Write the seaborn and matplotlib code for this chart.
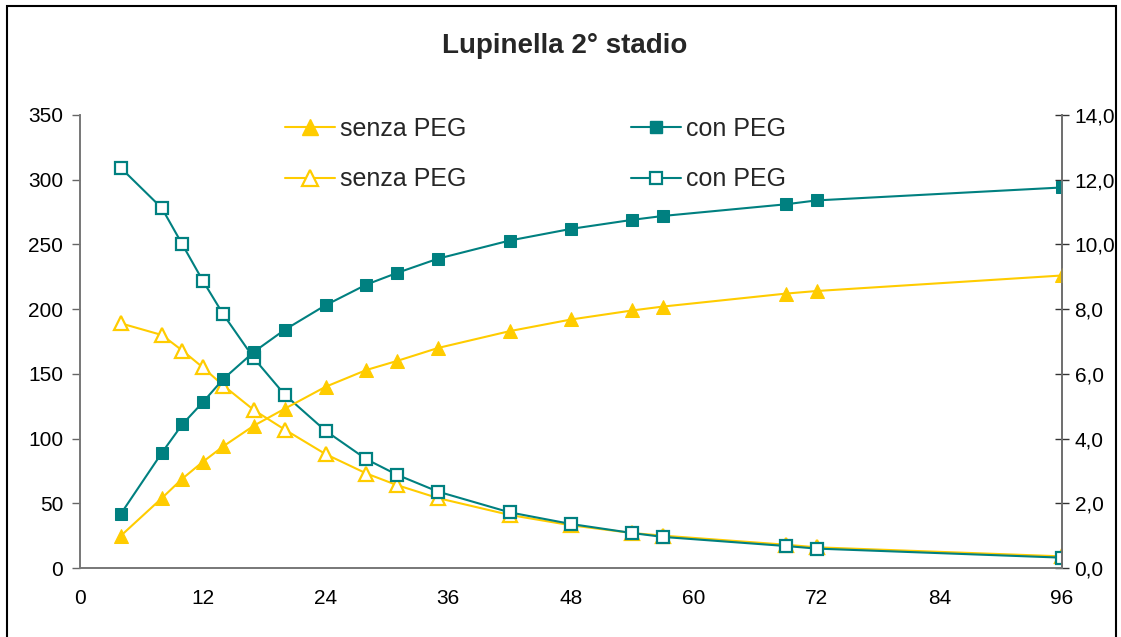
import matplotlib
matplotlib.use("Agg")
import matplotlib.pyplot as plt
import seaborn as sns
import pandas as pd
from matplotlib.patches import Rectangle
from matplotlib.lines import Line2D
from matplotlib.ticker import FuncFormatter

# Data (hours)
ore = [4, 8, 10, 12, 14, 17, 20, 24, 28, 31, 35, 42, 48, 54, 57, 69, 72, 96]
# cumulative values (left axis)
senza_cum = [25, 54, 69, 82, 94, 110, 123, 140, 153, 160, 170, 183, 192, 199, 202, 212, 214, 226]
con_cum = [42, 89, 111, 128, 146, 167, 184, 203, 219, 228, 239, 253, 262, 269, 272, 281, 284, 294]
# rate values (right axis)
senza_rate = [7.56, 7.20, 6.72, 6.20, 5.64, 4.88, 4.28, 3.52, 2.92, 2.56, 2.16, 1.64, 1.32, 1.08, 1.00, 0.72, 0.64, 0.36]
con_rate = [12.36, 11.12, 10.00, 8.88, 7.84, 6.48, 5.36, 4.24, 3.36, 2.88, 2.36, 1.72, 1.36, 1.08, 0.96, 0.68, 0.60, 0.32]

df = pd.DataFrame({"ore": ore, "senza_cum": senza_cum, "con_cum": con_cum,
                   "senza_rate": senza_rate, "con_rate": con_rate})

sns.set_style("white")
plt.rcParams['font.family'] = ['Liberation Sans', 'DejaVu Sans']

yellow = "#FFCC00"
teal = "#008080"

fig = plt.figure(figsize=(11.21, 6.37), dpi=100)
ax = fig.add_axes([0.0714, 0.1083, 0.8760, 0.7112])
ax2 = ax.twinx()

# right axis series (open markers)
sns.lineplot(data=df, x="ore", y="senza_rate", ax=ax2, color=yellow, lw=1.5, marker="^",
             markersize=10, markerfacecolor="white", markeredgecolor=yellow, markeredgewidth=1.6)
sns.lineplot(data=df, x="ore", y="con_rate", ax=ax2, color=teal, lw=1.5, marker="s",
             markersize=9, markerfacecolor="white", markeredgecolor=teal, markeredgewidth=1.6)
# left axis series (filled markers)
sns.lineplot(data=df, x="ore", y="senza_cum", ax=ax, color=yellow, lw=1.5, marker="^",
             markersize=10, markeredgecolor=yellow)
sns.lineplot(data=df, x="ore", y="con_cum", ax=ax, color=teal, lw=1.5, marker="s",
             markersize=9, markeredgecolor=teal)
ax.set_zorder(ax2.get_zorder() + 1)
ax.patch.set_visible(False)

ax.set_xlim(0, 96)
ax.set_ylim(0, 350)
ax2.set_ylim(0, 14)
ax.set_xticks(range(0, 97, 12))
ax.set_yticks(range(0, 351, 50))
ax2.set_yticks(range(0, 15, 2))
ax2.yaxis.set_major_formatter(FuncFormatter(lambda v, p: f"{v:.1f}".replace(".", ",")))
ax.set_xlabel("")
ax.set_ylabel("")
ax2.set_ylabel("")

for a in (ax, ax2):
    a.spines["top"].set_visible(False)
    for s in ("left", "right", "bottom"):
        a.spines[s].set_color("#777777")
        a.spines[s].set_linewidth(1.2)
ax.tick_params(axis="both", direction="out", length=6, width=1, color="#666666",
               labelsize=15, colors="black")
ax.tick_params(axis="y", pad=6)
ax.tick_params(axis="x", pad=9)
ax2.tick_params(axis="y", direction="inout", length=10, width=1, color="#333333",
                labelsize=15, colors="black", pad=4)
ax2.spines["right"].set_color("#333333")

fig.text(0.504, 0.928, "Lupinella 2° stadio", ha="center", va="center",
         fontsize=20, fontweight="bold")

# legend in two rows
handles = [
    Line2D([], [], color=yellow, lw=1.5, marker="^", markersize=11, markeredgecolor=yellow),
    Line2D([], [], color=yellow, lw=1.5, marker="^", markersize=11,
           markerfacecolor="white", markeredgecolor=yellow, markeredgewidth=1.6),
    Line2D([], [], color=teal, lw=1.5, marker="s", markersize=9, markeredgecolor=teal),
    Line2D([], [], color=teal, lw=1.5, marker="s", markersize=9,
           markerfacecolor="white", markeredgecolor=teal, markeredgewidth=1.6),
]
labels = ["senza PEG", "senza PEG", "con PEG", "con PEG"]
fig.legend(handles, labels, ncol=2, loc="upper left",
           bbox_to_anchor=(285 / 1121, 1 - 117 / 637), borderaxespad=0, borderpad=0,
           frameon=False, fontsize=18, handlelength=2.0, handletextpad=0.2,
           columnspacing=6.6, labelspacing=1.05)

# outer chart border
fig.patches.append(Rectangle((7 / 1121, -0.02), 1109 / 1121, 1.0 - 6 / 637 + 0.02,
                             transform=fig.transFigure, fill=False, edgecolor="black",
                             linewidth=1.5))

fig.savefig("out.png", dpi=100)
